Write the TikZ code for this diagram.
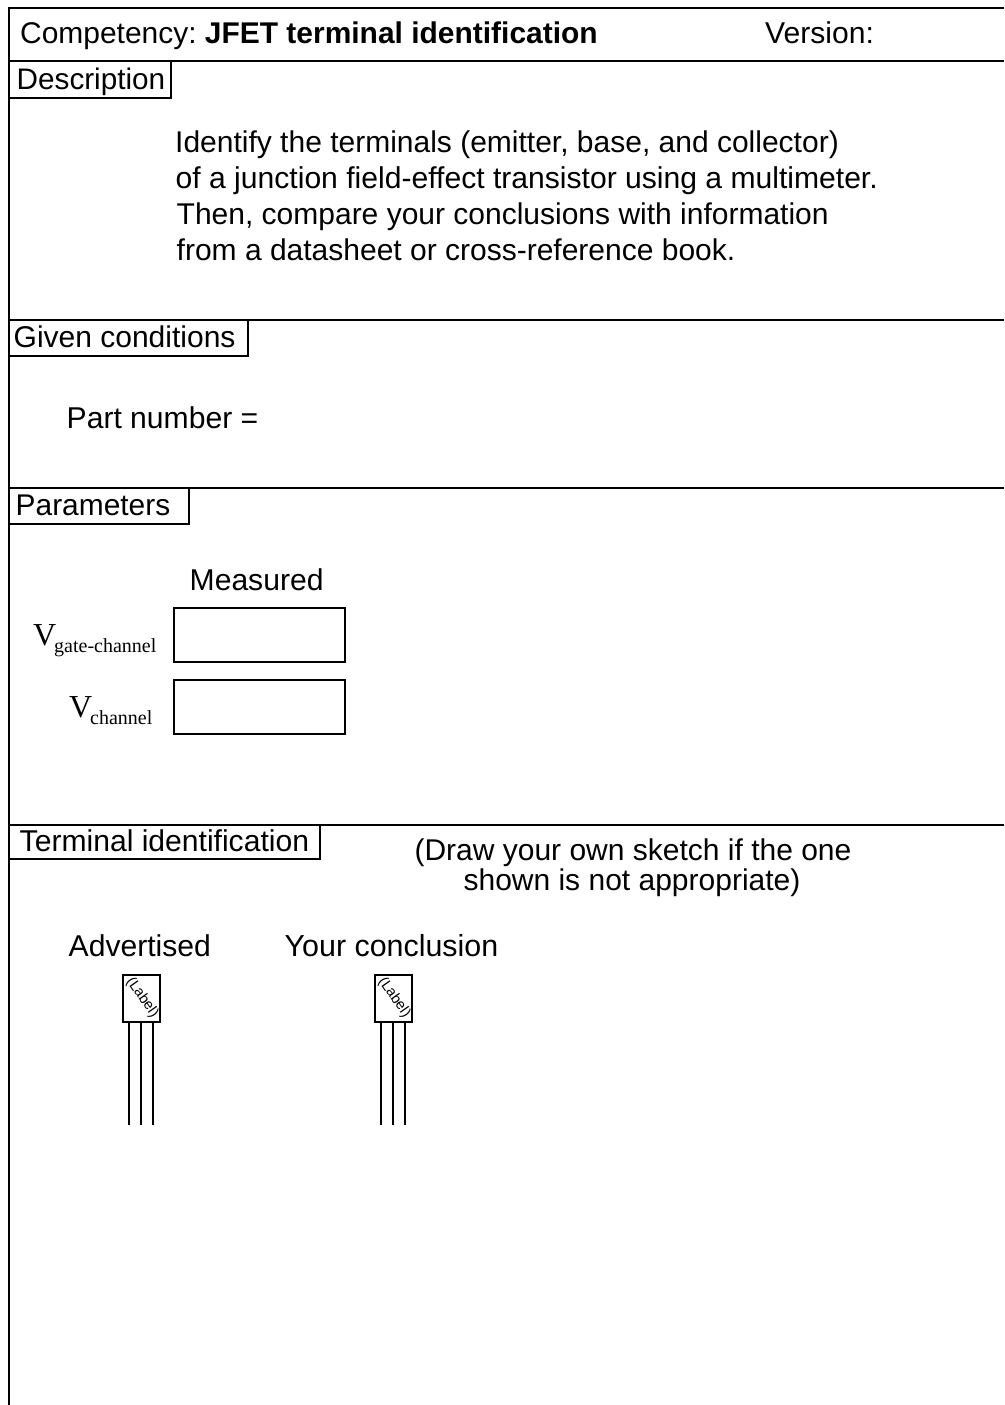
\documentclass[tikz,border=0pt]{standalone}
\usepackage{fontspec}
\setmainfont{Liberation Sans}
\newfontfamily\timesf{Liberation Serif}
\frenchspacing
\tikzset{
  px/.style={x=1pt,y=-1pt},
  rule/.style={draw=black,line width=2pt},
  txt/.style={anchor=base west,inner sep=0pt,font=\fontsize{#1}{30}\selectfont},
  txt/.default=30.1,
  ctr/.style={anchor=base,inner sep=0pt,font=\fontsize{30}{30}\selectfont},
  sym/.style={anchor=base west,inner sep=0pt,font=\timesf\fontsize{32}{32}\selectfont},
  sub/.style={anchor=base west,inner sep=0pt,font=\timesf\fontsize{20}{20}\selectfont},
  inbox/.style={draw=black,line width=2pt,outer sep=0pt,minimum width=171.5pt,minimum height=54pt,inner sep=0pt,anchor=north west},
  pkg/.style={draw=black,line width=2pt,outer sep=0pt,minimum width=36.6pt,minimum height=47.7pt,inner sep=0pt,anchor=north west},
  lbl/.style={inner sep=0pt,rotate=-55,font=\fontsize{14.5}{15}\selectfont},
}
\begin{document}
\begin{tikzpicture}[px]
\useasboundingbox (0,0) rectangle (1004,1405);
% frame
\coordinate (tl) at (8.5,8); \coordinate (tr) at (1004,8); \coordinate (bl) at (8.5,1405);
\draw[rule] (tr) -- (tl) -- (bl);
% section rules
\foreach \n/\y in {a/61,b/320,c/488,d/825}{
  \coordinate (\n l) at (8.5,\y); \coordinate (\n r) at (1004,\y);
  \draw[rule] (\n l) -- (\n r);
}
% tabs
\coordinate (t1) at (171,98); \coordinate (t2) at (248,356); \coordinate (t3) at (189,524); \coordinate (t4) at (320,859);
\draw[rule] (171,61) -- (t1) -- (8.5,98);
\draw[rule] (248,320) -- (t2) -- (8.5,356);
\draw[rule] (189,488) -- (t3) -- (8.5,524);
\draw[rule] (320,825) -- (t4) -- (8.5,859);
% header
\node[txt=29.95] (comp) at (20,44) {Competency: \textbf{JFET terminal identification}};
\node[txt] (ver) at (765,44) {Version:};
\node[txt=29.7] (desc) at (16.5,89) {Description};
\node[txt=30] (d1) at (175,152) {Identify the terminals (emitter, base, and collector)};
\node[txt] (d2) at (175.5,188) {of a junction field-effect transistor using a multimeter.};
\node[txt=30] (d3) at (176.5,224) {Then, compare your conclusions with information};
\node[txt=30] (d4) at (176.5,260) {from a datasheet or cross-reference book.};
\node[txt=30] (given) at (13.5,347) {Given conditions};
\node[txt] (part) at (66.5,428) {Part number =};
\node[txt=29.9] (param) at (15.5,515) {Parameters};
\node[txt] (meas) at (189.5,590) {Measured};
\node[inbox] (b1) at (173.7,607.7) {};
\node[inbox] (b2) at (173.7,679.7) {};
\node[sym] (v1) at (33,645.5) {V};
\node[sub] (v1s) at (54,652) {gate-channel};
\node[sym] (v2) at (69,717.5) {V};
\node[sub] (v2s) at (90,724) {channel};
\node[txt] (term) at (19.5,851) {Terminal identification};
\node[ctr] (s1) at (633,860) {(Draw your own sketch if the one};
\node[ctr] (s2) at (632,890) {shown is not appropriate)};
\node[txt] (adv) at (68.5,956) {Advertised};
\node[txt=30.4] (conc) at (284.5,956) {Your conclusion};
% transistors
\foreach \nm/\x in {p/123.2,q/375.2}{
  \node[pkg] (\nm) at (\x,974.6) {};
  \node[lbl] at (\x+19,997.5) {(Label)};
  \foreach \i/\dx in {1/5.5,2/17.5,3/29.5}{
    \coordinate (\nm\i) at (\x+\dx,1124.5);
    \draw[rule] (\x+\dx,1022) -- (\nm\i);
  }
}
\end{tikzpicture}
\end{document}
